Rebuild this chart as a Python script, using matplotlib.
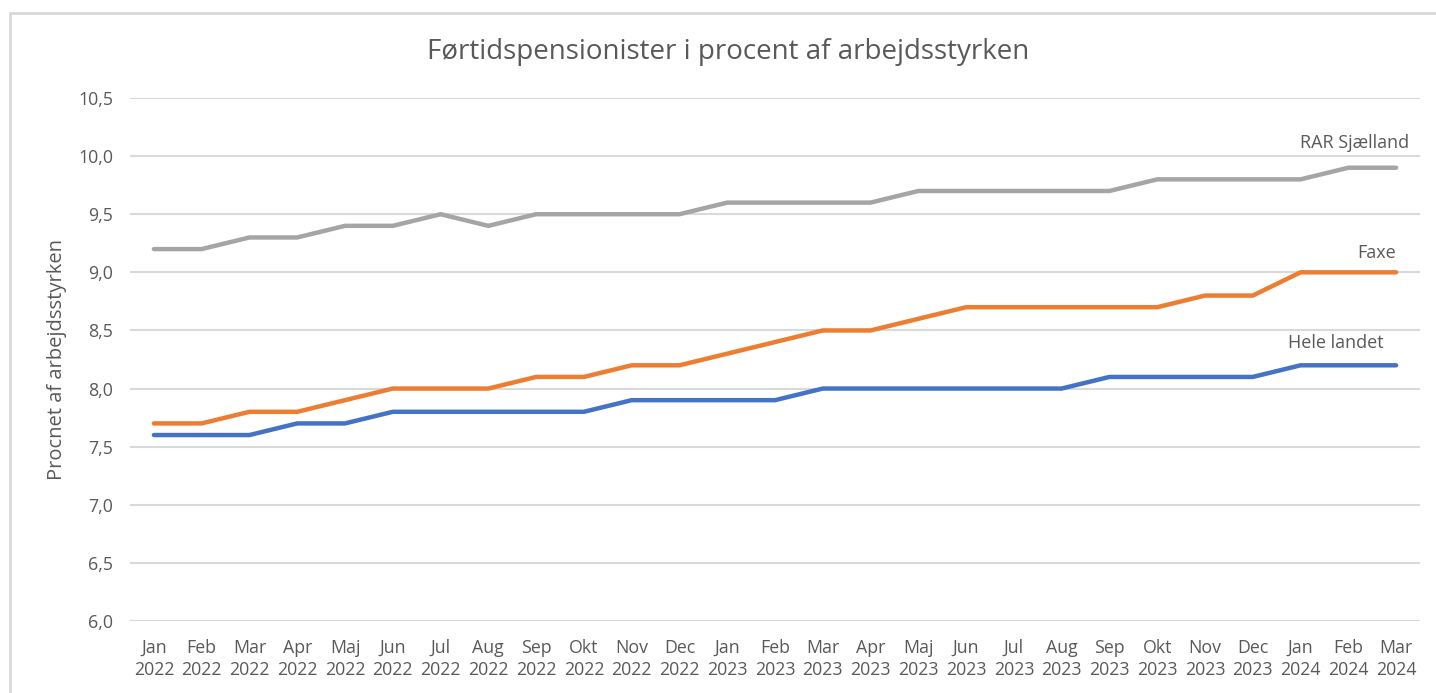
import matplotlib
matplotlib.use("Agg")
import matplotlib.pyplot as plt
from matplotlib.ticker import FuncFormatter, MultipleLocator
from matplotlib.patches import Rectangle

plt.rcParams['font.family'] = ['Open Sans', 'DejaVu Sans']

months = ["Jan", "Feb", "Mar", "Apr", "Maj", "Jun", "Jul", "Aug", "Sep", "Okt", "Nov", "Dec",
          "Jan", "Feb", "Mar", "Apr", "Maj", "Jun", "Jul", "Aug", "Sep", "Okt", "Nov", "Dec",
          "Jan", "Feb", "Mar"]
years = ["2022"] * 12 + ["2023"] * 12 + ["2024"] * 3
categories = [f"{m}\n{y}" for m, y in zip(months, years)]

rar_sjaelland = [9.2, 9.2, 9.3, 9.3, 9.4, 9.4, 9.5, 9.4, 9.5, 9.5, 9.5, 9.5,
                 9.6, 9.6, 9.6, 9.6, 9.7, 9.7, 9.7, 9.7, 9.7, 9.8, 9.8, 9.8,
                 9.8, 9.9, 9.9]
faxe = [7.7, 7.7, 7.8, 7.8, 7.9, 8.0, 8.0, 8.0, 8.1, 8.1, 8.2, 8.2,
        8.3, 8.4, 8.5, 8.5, 8.6, 8.7, 8.7, 8.7, 8.7, 8.7, 8.8, 8.8,
        9.0, 9.0, 9.0]
hele_landet = [7.6, 7.6, 7.6, 7.7, 7.7, 7.8, 7.8, 7.8, 7.8, 7.8, 7.9, 7.9,
               7.9, 7.9, 8.0, 8.0, 8.0, 8.0, 8.0, 8.0, 8.1, 8.1, 8.1, 8.1,
               8.2, 8.2, 8.2]

series_names = ["RAR Sjælland", "Faxe", "Hele landet"]
colors = ["#A5A5A5", "#ED7D31", "#4472C4"]
text_color = "#595959"
grid_color = "#D9D9D9"

fig = plt.figure(figsize=(14.36, 6.93), dpi=100)
fig.patches.append(Rectangle((10 / 1436, -0.1), 1.2, 1 - 13 / 693 + 0.1,
                             transform=fig.transFigure, fill=False,
                             edgecolor="#D9D9D9", linewidth=2))
ax = fig.add_axes([130 / 1436, 1 - 621 / 693, (1420 - 130) / 1436, (621 - 98) / 693])

x = list(range(len(categories)))
for vals, c in zip([rar_sjaelland, faxe, hele_landet], colors):
    ax.plot(x, vals, color=c, linewidth=3.2, solid_capstyle="round", zorder=3)

ax.set_xlim(-0.5, len(categories) - 0.5)
ax.set_ylim(6.0, 10.5)
ax.yaxis.set_major_locator(MultipleLocator(0.5))
ax.yaxis.set_major_formatter(FuncFormatter(lambda v, p: f"{v:.1f}".replace(".", ",")))
ax.set_xticks(x)
ax.set_xticklabels(categories, linespacing=1.3)
ax.grid(axis="y", color=grid_color, linewidth=1.5)
ax.set_axisbelow(True)
for s in ["top", "right", "left", "bottom"]:
    ax.spines[s].set_visible(False)
ax.tick_params(axis="both", length=0, colors=text_color, labelsize=12.8)
ax.tick_params(axis="y", pad=12)
ax.tick_params(axis="x", pad=13)
ax.set_ylabel("Procnet af arbejdsstyrken", color=text_color, fontsize=14.5, labelpad=8)

label_pos = [(26.27, 10.11), (26.0, 9.17), (25.73, 8.39)]
for name, (lx, ly) in zip(series_names, label_pos):
    ax.text(lx, ly, name, ha="right", va="center", color=text_color, fontsize=13)

fig.text((426 + 1030) / 2 / 1436, 1 - 52 / 693, "Førtidspensionister i procent af arbejdsstyrken",
         ha="center", va="center", color=text_color, fontsize=20)

fig.savefig("out.png", dpi=100, facecolor="white")
